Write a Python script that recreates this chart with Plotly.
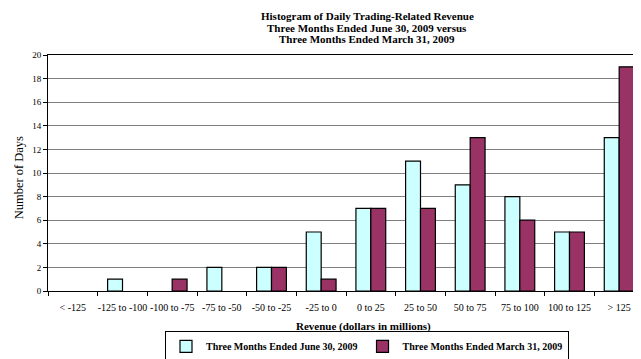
import plotly.graph_objects as go

categories = ["< -125", "-125 to -100", "-100 to -75", "-75 to -50", "-50 to -25", "-25 to 0",
              "0 to 25", "25 to 50", "50 to 75", "75 to 100", "100 to 125", "> 125"]
june_2009 = [0, 1, 0, 2, 2, 5, 7, 11, 9, 8, 5, 13]
march_2009 = [0, 0, 1, 0, 2, 1, 7, 7, 13, 6, 5, 19]
y_ticks = list(range(0, 21, 2))
title_lines = ["Histogram of Daily Trading-Related Revenue",
               "Three Months Ended June 30, 2009 versus",
               "Three Months Ended March 31, 2009"]

FONT = "Liberation Serif, Times New Roman, serif"
W, H = 641, 359
L, R, T, B = 40, 5, 47, 69
pw, ph = W - L - R, H - T - B


def px_x(x):
    return (x - L) / pw


def px_y(y):
    return (H - B - y) / ph


def nz(vals):
    return [v if v else None for v in vals]


fig = go.Figure()
fig.add_trace(go.Bar(x=categories, y=nz(june_2009), name="<b>Three Months Ended June 30, 2009</b>",
                     marker=dict(color="#CCFFFF", line=dict(color="black", width=1.2))))
fig.add_trace(go.Bar(x=categories, y=nz(march_2009), name="<b>Three Months Ended March 31, 2009</b>",
                     marker=dict(color="#993366", line=dict(color="black", width=1.2))))

annotations = []
for i, line in enumerate(title_lines):
    annotations.append(dict(text="<b>%s</b>" % line, x=px_x(359), y=px_y(7 + 12 * i),
                            xref="paper", yref="paper", xanchor="center", yanchor="middle",
                            showarrow=False, font=dict(family=FONT, size=11)))
annotations.append(dict(text="<b>Revenue (dollars in millions)</b>", x=px_x(355), y=px_y(327),
                        xref="paper", yref="paper", xanchor="center", yanchor="middle",
                        showarrow=False, font=dict(family=FONT, size=11)))
annotations.append(dict(text="Number of Days", x=px_x(11), y=px_y(174), textangle=-90,
                        xref="paper", yref="paper", xanchor="center", yanchor="middle",
                        showarrow=False, font=dict(family=FONT, size=12.5)))

fig.update_layout(
    width=W, height=H,
    margin=dict(l=L, r=R, t=T, b=B),
    paper_bgcolor="white", plot_bgcolor="white",
    font=dict(family=FONT, size=9, color="black"),
    barmode="group", bargap=0.4, bargroupgap=0,
    annotations=annotations,
    xaxis=dict(showline=True, linecolor="black", linewidth=1, mirror=True,
               ticks="outside", tickson="boundaries", ticklen=4, tickcolor="black",
               tickangle=0, tickfont=dict(size=10), ticklabelstandoff=7),
    yaxis=dict(range=[0, 20], tickvals=y_ticks, showline=True, linecolor="black", linewidth=1, mirror=True,
               ticks="outside", ticklen=4, tickcolor="black",
               showgrid=True, gridcolor="#808080", gridwidth=1,
               tickfont=dict(size=9)),
    legend=dict(orientation="h", x=px_x(359), xanchor="center", y=px_y(347), yanchor="middle",
                bordercolor="black", borderwidth=1, font=dict(size=10, family=FONT),
                traceorder="normal", itemwidth=30, tracegroupgap=0),
)

fig.write_html("out.html")
